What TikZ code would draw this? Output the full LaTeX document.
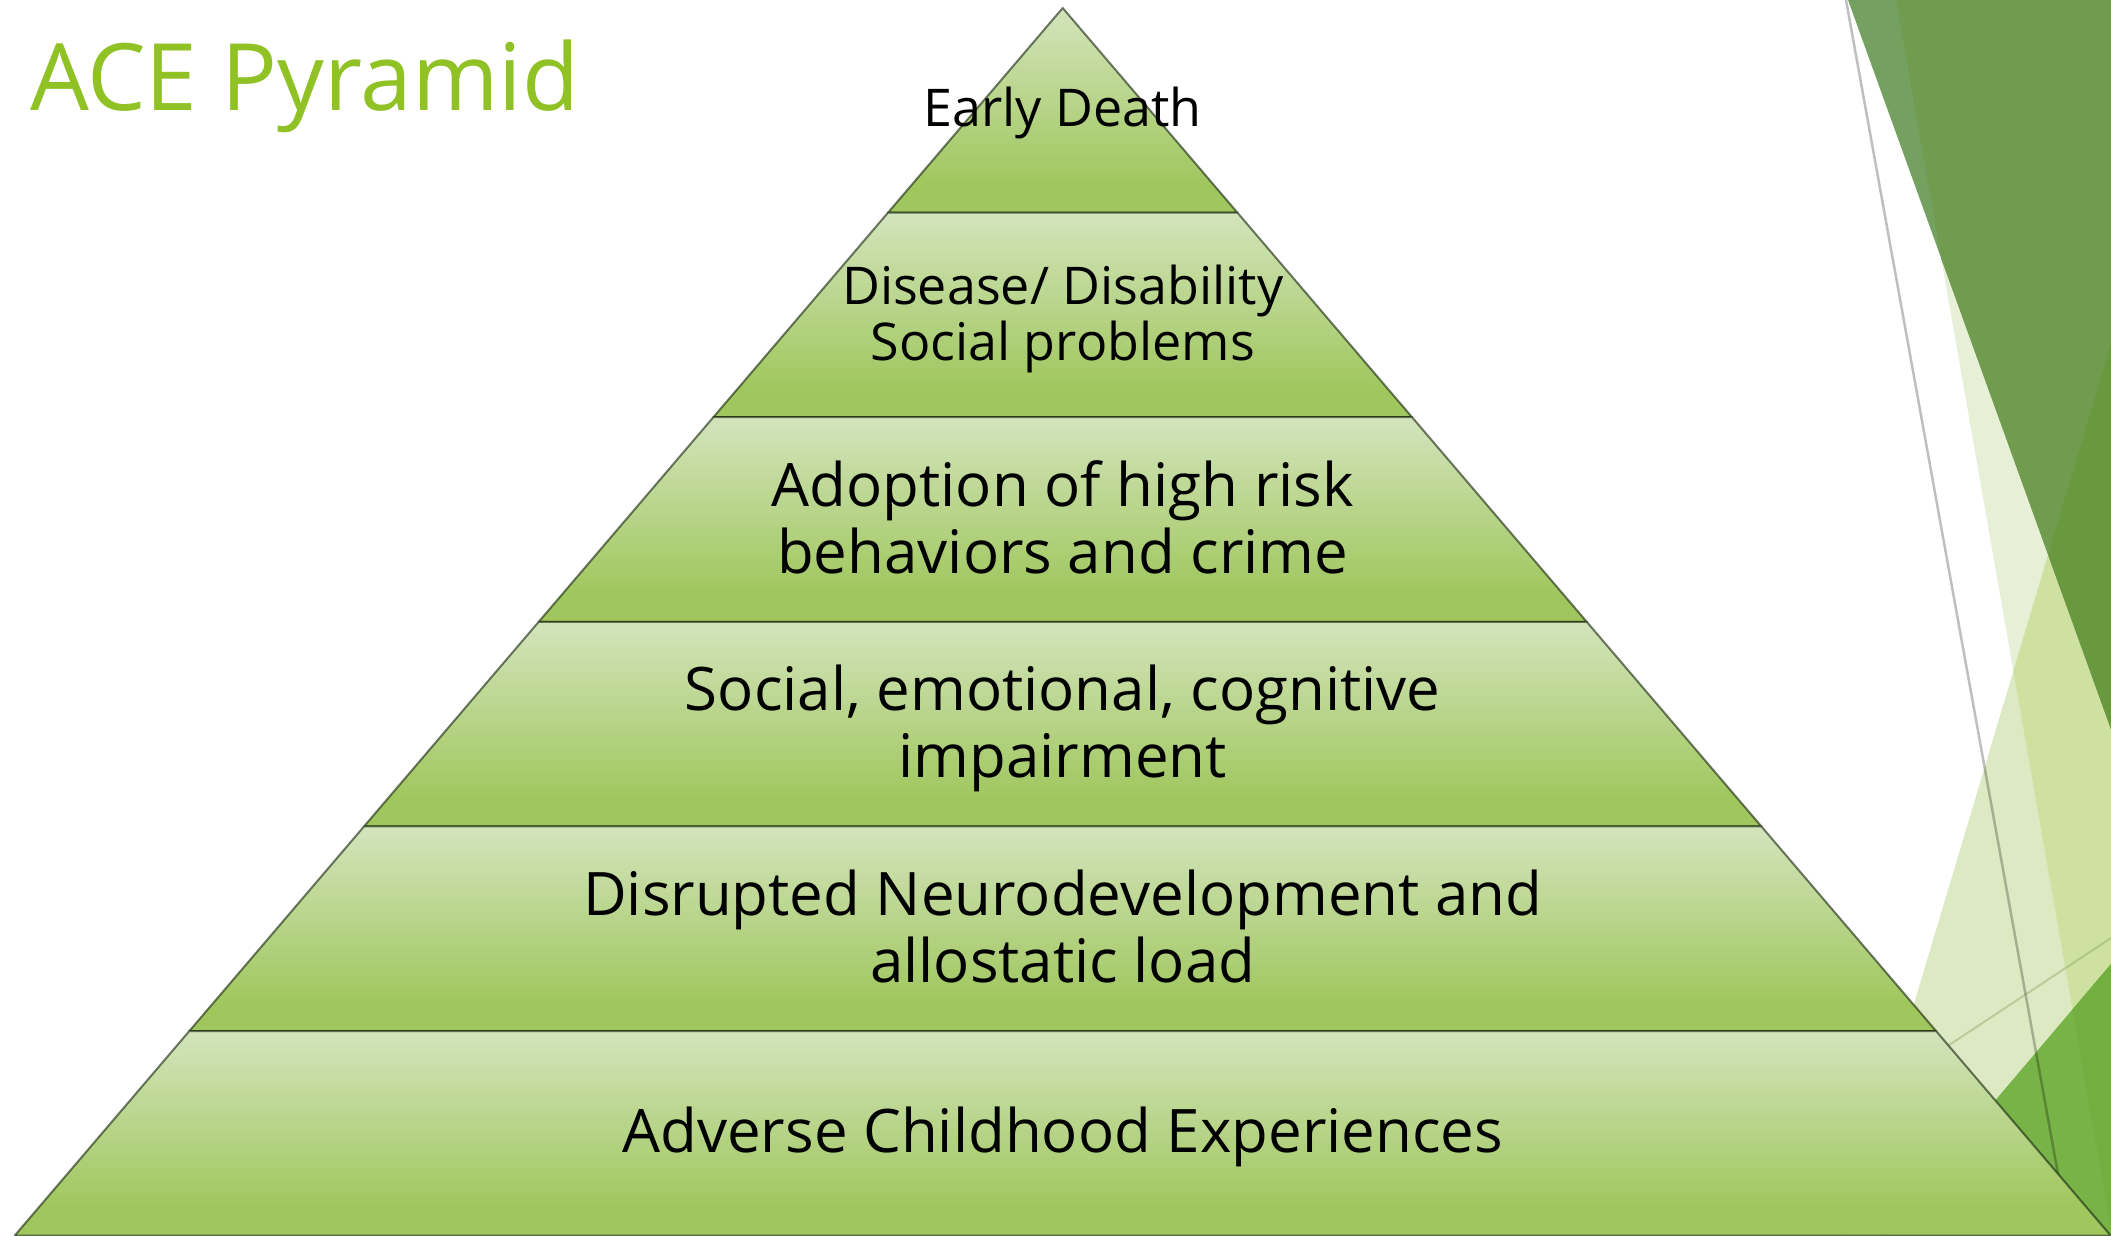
\documentclass[tikz,border=0pt]{standalone}
\usepackage{fontspec}
\setmainfont{Open Sans}
\definecolor{titlegreen}{HTML}{90C226}
\definecolor{bandtop}{HTML}{D3E4BC}
\definecolor{bandbot}{HTML}{A0C75E}
\definecolor{bandline}{RGB}{20,35,10}
\definecolor{paletri}{HTML}{E7F0D7}
\definecolor{midtri}{HTML}{DCE9C2}
\definecolor{midpale}{HTML}{CFE1A0}
\definecolor{darktri}{HTML}{75A160}
\definecolor{darkpale}{HTML}{719C50}
\definecolor{darkmid}{HTML}{6A983F}
\definecolor{brighttri}{HTML}{77B347}
\definecolor{brightpale}{HTML}{73AF40}
\definecolor{faintline}{RGB}{120,150,80}
\pgfdeclareverticalshading{bandshade}{100bp}{color(0bp)=(bandbot); color(32bp)=(bandbot); color(75bp)=(bandtop); color(100bp)=(bandtop)}
\begin{document}
\begin{tikzpicture}[x=1pt,y=-1pt,
  band/.style={shading=bandshade, draw=bandline, draw opacity=.6, line width=2pt, line join=round},
  big/.style={font=\fontsize{60}{72}\selectfont, anchor=base, inner sep=0pt},
  small/.style={font=\fontsize{52}{62}\selectfont, anchor=base, inner sep=0pt}]
\fill[white] (0,0) rectangle (2111,1235);
\useasboundingbox (0,0) rectangle (2111,1235);

% triangles on the right
\fill[paletri] (1896,0)--(2111,0)--(2111,1229)--cycle;
\fill[midtri] (2111,344)--(2111,1235)--(1845,1235)--cycle;
\begin{scope}
\clip (1896,0)--(2111,0)--(2111,1229)--cycle;
\fill[midpale] (2111,344)--(2111,1235)--(1845,1235)--cycle;
\end{scope}
\fill[darktri] (1848,0)--(2111,0)--(2111,729)--cycle;
\begin{scope}
\clip (1896,0)--(2111,0)--(2111,1229)--cycle;
\fill[darkpale] (1848,0)--(2111,0)--(2111,729)--cycle;
\end{scope}
\begin{scope}
\clip (2111,344)--(2111,1235)--(1845,1235)--cycle;
\fill[darkmid] (1848,0)--(2111,0)--(2111,729)--cycle;
\end{scope}
\fill[brighttri] (2111,964)--(2111,1235)--(1881,1235)--cycle;
\begin{scope}
\clip (1896,0)--(2111,0)--(2111,1229)--cycle;
\fill[brightpale] (2111,964)--(2111,1235)--(1881,1235)--cycle;
\end{scope}
\draw[black, opacity=.25, line width=2.5pt] (1846,0)--(2069,1235);
\draw[faintline, opacity=.35, line width=2pt] (1940,1051)--(2111,938);

% pyramid
\foreach \k in {0,...,5}{
  \pgfmathsetmacro\ytop{8+204.6*\k}
  \pgfmathsetmacro\ybot{\ytop+204.6}
  \pgfmathsetmacro\wtop{0.8537*(\ytop-8)}
  \pgfmathsetmacro\wbot{0.8537*(\ybot-8)}
  \shade[band] (1062.7-\wtop,\ytop)--(1062.7+\wtop,\ytop)--(1062.7+\wbot,\ybot)--(1062.7-\wbot,\ybot)--cycle;
}

\node[anchor=base west, inner sep=0pt, text=titlegreen, font=\fontsize{93}{110}\selectfont] (title) at (30,110.7) {ACE Pyramid};

\node[small] (death) at (1062.7,126.7) {Early Death};
\node[small] (disease) at (1062.7,304) {Disease/ Disability};
\node[small] (socprob) at (1062.7,360) {Social problems};
\node[big] (adopt) at (1062.7,506) {Adoption of high risk};
\node[big] (behav) at (1062.7,573) {behaviors and crime};
\node[big] (emot) at (1062.7,710) {Social, emotional, cognitive};
\node[big] (impair) at (1062.7,777) {impairment};
\node[big] (neuro) at (1062.7,915) {Disrupted Neurodevelopment and};
\node[big] (allo) at (1062.7,982) {allostatic load};
\node[big] (ace) at (1062.7,1152) {Adverse Childhood Experiences};
\end{tikzpicture}
\end{document}
